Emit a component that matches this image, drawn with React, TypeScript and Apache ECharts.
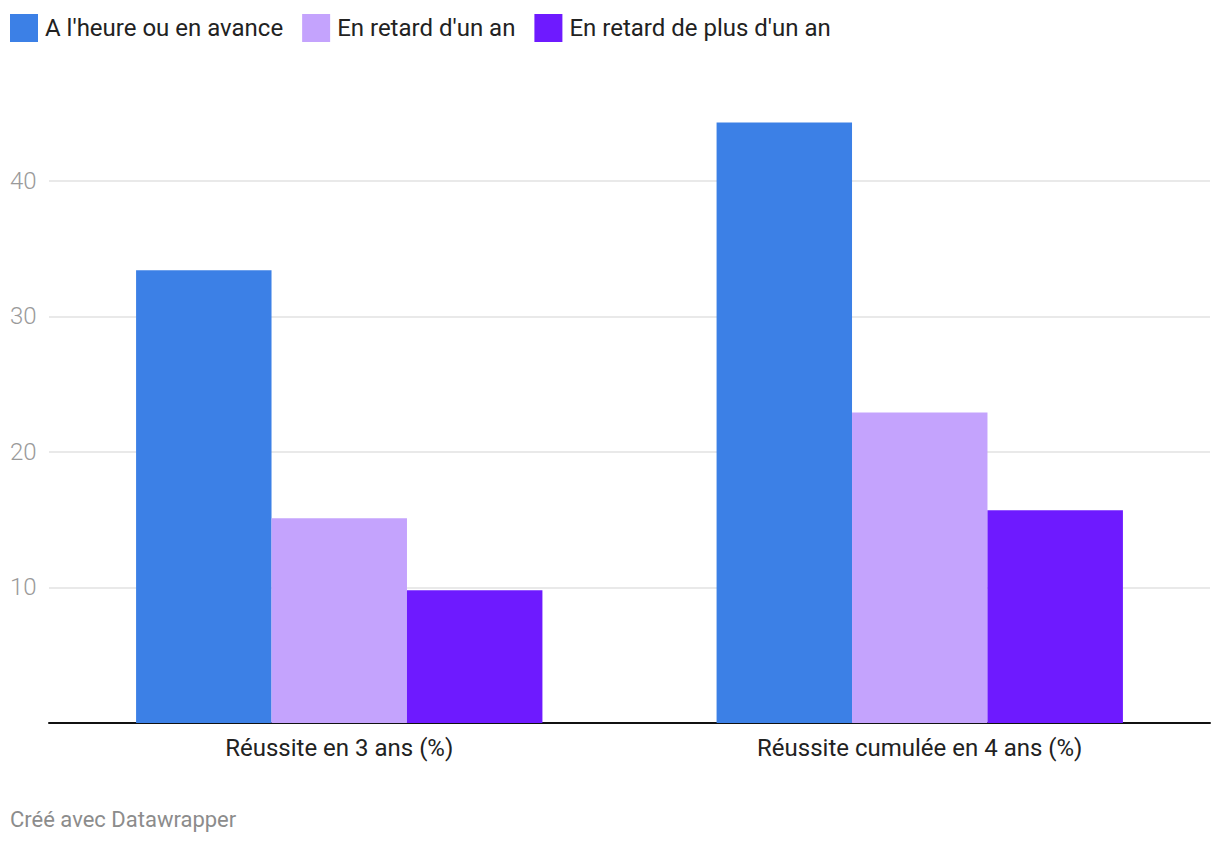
import React, { useEffect, useRef } from "react";
import * as echarts from "echarts";

const categories = ["Réussite en 3 ans (%)", "Réussite cumulée en 4 ans (%)"];
const seriesNames = ["A l'heure ou en avance", "En retard d'un an", "En retard de plus d'un an"];
const onTime = [33.4, 44.3];
const oneYearLate = [15.1, 22.9];
const moreLate = [9.8, 15.7];
const colors = ["#3c80e6", "#c4a3fd", "#6e1aff"];
const footer = "Créé avec Datawrapper";

export default function App() {
  const ref = useRef<HTMLDivElement>(null);
  useEffect(() => {
    if (!ref.current) return;
    const chart = echarts.init(ref.current, null, { renderer: "svg" });
    const values = [onTime, oneYearLate, moreLate];
    chart.setOption({
      animation: false,
      textStyle: { fontFamily: "Roboto" },
      legend: {
        left: 5,
        top: 9,
        icon: "rect",
        itemWidth: 28,
        itemHeight: 28,
        itemGap: 19,
        textStyle: { fontSize: 24, color: "#222222", fontFamily: "Roboto", padding: [0, 0, 0, 2] },
        data: seriesNames,
      },
      grid: { left: 49, right: 10, top: 113, bottom: 121 },
      xAxis: {
        type: "category",
        data: categories,
        axisLine: { show: true, lineStyle: { color: "#111111", width: 2 } },
        axisTick: { show: false },
        axisLabel: { fontSize: 24, color: "#222222", margin: 13, fontFamily: "Roboto" },
      },
      yAxis: {
        type: "value",
        min: 0,
        max: 45,
        interval: 10,
        axisLine: { show: false },
        axisTick: { show: false },
        axisLabel: {
          showMinLabel: false,
          showMaxLabel: false,
          fontSize: 24,
          color: "#9a9a9a",
          fontWeight: 300,
          fontFamily: "Roboto",
          align: "left",
          margin: 39,
          verticalAlign: "middle",
        },
        splitLine: { show: true, showMinLine: false, showMaxLine: false, lineStyle: { color: "#e2e2e2", width: 1.5 } },
      },
      series: seriesNames.map((name, i) => ({
        name,
        type: "bar",
        data: values[i],
        itemStyle: { color: colors[i] },
        barGap: "0%",
        barCategoryGap: "30%",
      })),
      graphic: [
        {
          type: "text",
          left: 10,
          top: 808,
          style: { text: footer, fontSize: 22, fill: "#8c8c8c", fontFamily: "Roboto" },
        },
      ],
    });
    return () => chart.dispose();
  }, []);
  return <div ref={ref} style={{ width: 1220, height: 844, position: "absolute", left: 0, top: 0 }} />;
}
